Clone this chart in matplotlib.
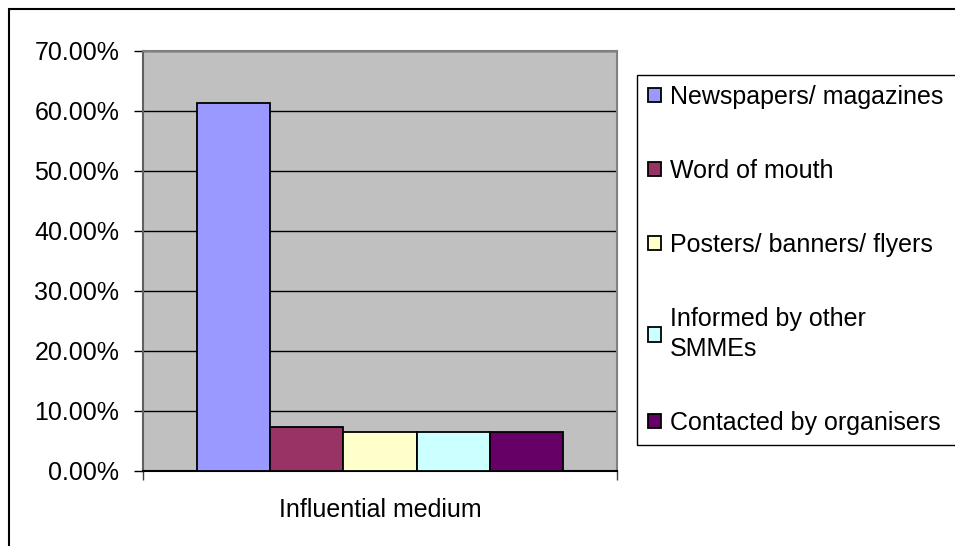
import matplotlib
matplotlib.use('Agg')
import matplotlib.pyplot as plt
from matplotlib.patches import Rectangle
from matplotlib.ticker import FuncFormatter

plt.rcParams['font.family'] = ['Liberation Sans', 'DejaVu Sans']

category = "Influential medium"
labels = ["Newspapers/ magazines", "Word of mouth", "Posters/ banners/ flyers",
          "Informed by other\nSMMEs", "Contacted by organisers"]
values = [61.3, 7.3, 6.5, 6.5, 6.5]
colors = ['#9999FF', '#993366', '#FFFFCC', '#CCFFFF', '#660066']
yticks = [0, 10, 20, 30, 40, 50, 60, 70]

W, H = 955, 546
fig = plt.figure(figsize=(W / 100, H / 100), dpi=100)
fig.patch.set_facecolor('white')

# plot area
ax = fig.add_axes([143 / W, 1 - 470.5 / H, 474 / W, 419.5 / H])
ax.set_facecolor('#C0C0C0')

bw = 0.1546
x0 = 0.5 - bw * len(values) / 2
handles = []
for i, (lab, v, c) in enumerate(zip(labels, values, colors)):
    b = ax.bar(x0 + bw * (i + 0.5), v, width=bw, color=c, edgecolor='black',
               linewidth=1.3, label=lab, zorder=3)
    handles.append(b)

ax.set_xlim(0, 1)
ax.set_ylim(0, 70)
ax.set_yticks(yticks)
ax.yaxis.set_major_formatter(FuncFormatter(lambda v, p: f"{v:.2f}%"))
ax.set_axisbelow(True)
ax.yaxis.grid(True, color='black', linewidth=1.0)

ax.set_xticks([0.5])
ax.set_xticklabels([category])
ax.set_xticks([0, 1], minor=True)
ax.tick_params(axis='x', which='major', length=0, pad=20, labelsize=18)
ax.tick_params(axis='x', which='minor', length=6.5, width=1, color='#404040')
ax.tick_params(axis='y', length=6.5, width=1, pad=10.5, labelsize=18, color='black')

for s in ['top', 'right']:
    ax.spines[s].set_color('#808080')
    ax.spines[s].set_linewidth(1.5)
ax.spines['left'].set_color('#606060')
ax.spines['left'].set_linewidth(1.5)
ax.spines['bottom'].set_color('black')
ax.spines['bottom'].set_linewidth(1.5)

# legend frame
fig.patches.append(Rectangle((637 / W, 1 - 445 / H), 330 / W, 370 / H,
                             transform=fig.transFigure, facecolor='white',
                             edgecolor='black', linewidth=1.0, zorder=0))
leg = fig.legend(handles=handles, loc='upper left',
                 bbox_to_anchor=(648 / W, 1 - 85 / H), bbox_transform=fig.transFigure,
                 frameon=False, fontsize=18, borderpad=0, borderaxespad=0,
                 handlelength=0.5, handleheight=0.5, handletextpad=0.36,
                 labelspacing=2.0)
for t in leg.get_texts():
    t.set_linespacing(1.3)

# outer chart border
fig.patches.append(Rectangle((9 / W, -0.1), 2, 1.1 - 9 / H, transform=fig.transFigure,
                             fill=False, edgecolor='black', linewidth=1.5))

fig.savefig('out.png', dpi=100)
